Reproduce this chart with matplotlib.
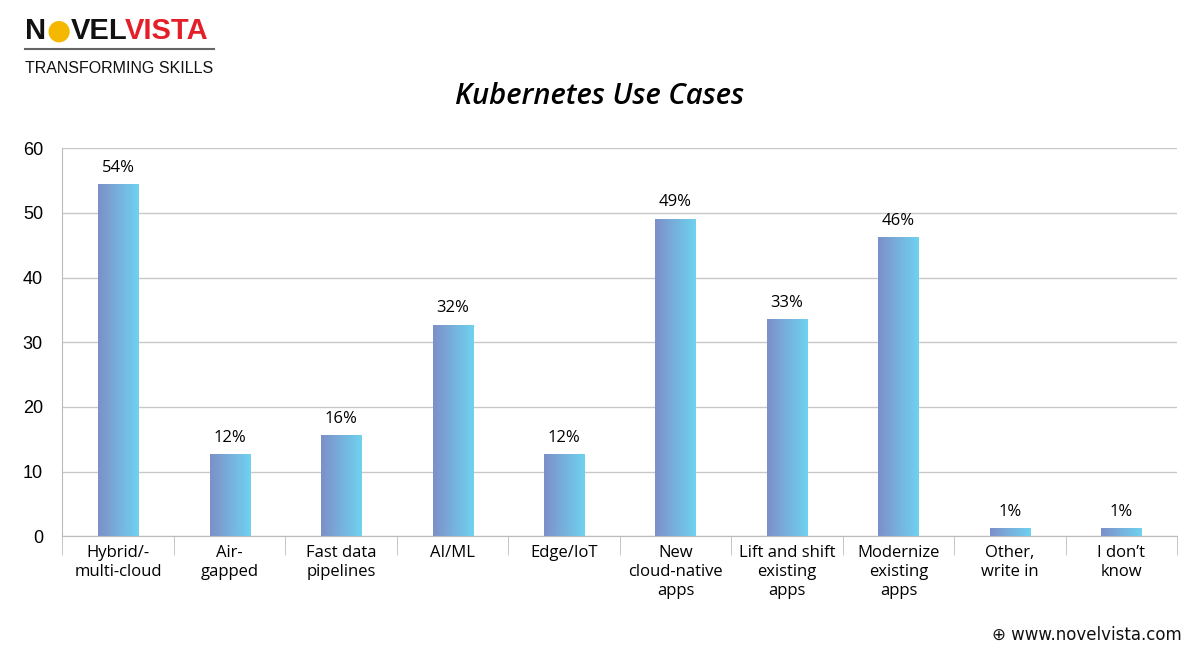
import numpy as np
import matplotlib.pyplot as plt
from matplotlib.colors import LinearSegmentedColormap

# data
categories = ["Hybrid/-\nmulti-cloud", "Air-\ngapped", "Fast data\npipelines", "AI/ML",
              "Edge/IoT", "New\ncloud-native\napps", "Lift and shift\nexisting\napps",
              "Modernize\nexisting\napps", "Other,\nwrite in", "I don\u2019t\nknow"]
values = [54.3, 12.6, 15.5, 32.6, 12.6, 49.0, 33.5, 46.1, 1.1, 1.1]
labels = ["54%", "12%", "16%", "32%", "12%", "49%", "33%", "46%", "1%", "1%"]
yticks = [0, 10, 20, 30, 40, 50, 60]

plt.rcParams["font.family"] = "Liberation Sans"
fig = plt.figure(figsize=(12, 6.5), dpi=100)
ax = fig.add_axes([0.052, 0.175, 0.929, 0.597])

x = np.arange(len(categories))
bars = ax.bar(x, values, width=0.36, color="none")
cmap = LinearSegmentedColormap.from_list("g", ["#7d90c8", "#6fd2f0"])
grad = np.linspace(0, 1, 100).reshape(1, -1)
for b, lab in zip(bars, labels):
    x0, w, h = b.get_x(), b.get_width(), b.get_height()
    ax.imshow(grad, cmap=cmap, aspect="auto", extent=(x0, x0 + w, 0, h), zorder=2)
    ax.text(x0 + w / 2, h + 1.4, lab, ha="center", va="bottom", fontsize=12,
            fontfamily="Open Sans")

ax.set_xlim(-0.5, len(categories) - 0.5)
ax.set_ylim(0, 60)
ax.set_yticks(yticks)
ax.tick_params(axis="y", length=0, labelsize=13, pad=14)
ax.set_xticks(x)
ax.set_xticklabels(categories, fontsize=12, fontfamily="Open Sans", linespacing=1.25)
ax.set_xticks(np.arange(len(categories) + 1) - 0.5, minor=True)
ax.tick_params(axis="x", which="major", length=0, pad=6)
ax.tick_params(axis="x", which="minor", length=14, color="#bbbbbb")
ax.grid(axis="y", color="#c8c8c8", lw=1)
ax.set_axisbelow(True)
for s in ["top", "right"]:
    ax.spines[s].set_visible(False)
ax.spines["left"].set_color("#bbbbbb")
ax.spines["bottom"].set_color("#bbbbbb")

fig.text(0.5, 0.84, "Kubernetes Use Cases", ha="center", fontsize=21,
         fontweight="semibold", style="italic", fontfamily="Open Sans")

# logo
fig.text(0.021, 0.94, "N", fontsize=21, fontweight="bold", color="#111111")
fig.text(0.0385, 0.94, "\u25cf", fontsize=20, color="#f5b800", fontfamily="DejaVu Sans")
fig.text(0.059, 0.94, "VEL", fontsize=21, fontweight="bold", color="#111111")
fig.text(0.104, 0.94, "VISTA", fontsize=21, fontweight="bold", color="#e3202a")
fig.add_artist(plt.Line2D([0.021, 0.178], [0.925, 0.925], color="#666666", lw=1.5))
fig.text(0.021, 0.888, "TRANSFORMING SKILLS", fontsize=11.5, color="#111111")

fig.text(0.985, 0.015, "\u2295 www.novelvista.com", ha="right", fontsize=12,
         color="#111111", fontfamily="DejaVu Sans")

fig.savefig("out.png", dpi=100, facecolor="white")
